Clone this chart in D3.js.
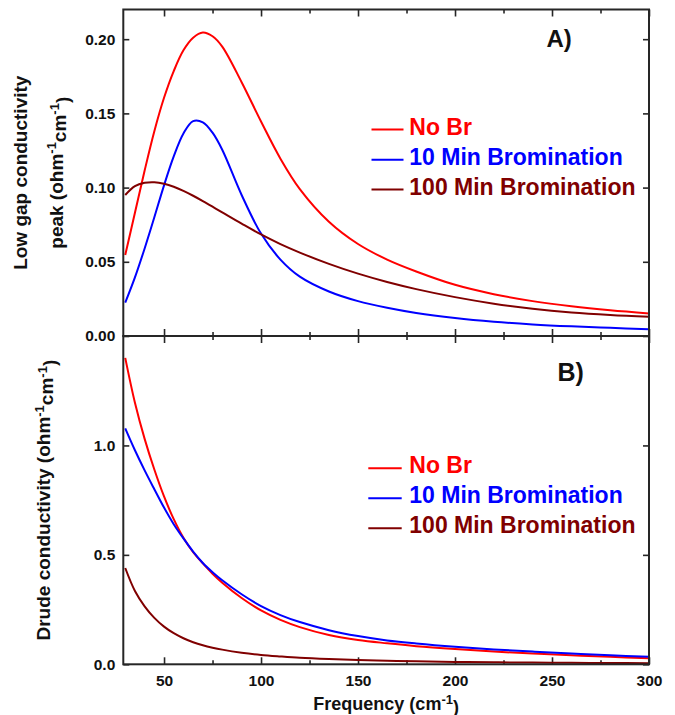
<!DOCTYPE html>
<html>
<head>
<meta charset="utf-8">
<script src="https://cdn.jsdelivr.net/npm/d3@7/dist/d3.min.js"></script>
<style>
  html, body { margin: 0; padding: 0; background: #fff; }
  svg { display: block; }
  text { font-family: "Liberation Sans", Arial, Helvetica, sans-serif; font-weight: bold; }
</style>
</head>
<body>
<svg id="chart" width="675" height="715"></svg>
<script>
// Frequency grid (cm^-1) shared by every curve
const freq = [30, 35, 40, 45, 50, 55, 60, 65, 70, 75, 80, 90, 100, 110, 120, 135, 150, 165, 180, 200, 220, 240, 260, 280, 300];

// Panel A: low gap conductivity peak (ohm^-1 cm^-1)
const peakNoBr   = [0.0546, 0.0830, 0.1115, 0.1380, 0.1605, 0.1785, 0.1925, 0.2010, 0.2045, 0.2020, 0.1950, 0.1710, 0.1445, 0.1195, 0.0990, 0.0770, 0.0620, 0.0515, 0.0435, 0.0345, 0.0282, 0.0235, 0.0200, 0.0173, 0.0152];
const peak10Min  = [0.0225, 0.0395, 0.0590, 0.0800, 0.1015, 0.1210, 0.1365, 0.1448, 0.1440, 0.1370, 0.1255, 0.0950, 0.0690, 0.0515, 0.0400, 0.0300, 0.0235, 0.0190, 0.0155, 0.0121, 0.0096, 0.0078, 0.0065, 0.0055, 0.0046];
const peak100Min = [0.0950, 0.1010, 0.1032, 0.1036, 0.1026, 0.1006, 0.0978, 0.0945, 0.0909, 0.0871, 0.0833, 0.0757, 0.0684, 0.0619, 0.0562, 0.0486, 0.0420, 0.0364, 0.0316, 0.0262, 0.0218, 0.0184, 0.0159, 0.0142, 0.0130];

// Panel B: Drude conductivity (ohm^-1 cm^-1)
const drudeNoBr   = [1.400, 1.195, 1.030, 0.890, 0.767, 0.663, 0.578, 0.512, 0.461, 0.414, 0.373, 0.303, 0.246, 0.203, 0.170, 0.134, 0.111, 0.096, 0.083, 0.0695, 0.058, 0.049, 0.041, 0.034, 0.028];
const drude10Min  = [1.078, 0.978, 0.886, 0.800, 0.716, 0.640, 0.575, 0.515, 0.463, 0.421, 0.384, 0.320, 0.266, 0.225, 0.193, 0.156, 0.129, 0.109, 0.095, 0.080, 0.068, 0.058, 0.049, 0.041, 0.035];
const drude100Min = [0.440, 0.335, 0.265, 0.212, 0.172, 0.142, 0.119, 0.101, 0.087, 0.076, 0.067, 0.053, 0.043, 0.036, 0.030, 0.024, 0.0195, 0.0162, 0.0136, 0.011, 0.0092, 0.0078, 0.0066, 0.0057, 0.0050];

const seriesNames  = ["No Br", "10 Min Bromination", "100 Min Bromination"];
const seriesColors = ["#ff0000", "#0000ff", "#800000"];

const xMajorTicks = [50, 100, 150, 200, 250, 300];
const xMinorTicks = [75, 125, 175, 225, 275];
const yTicksA = [0, 0.05, 0.10, 0.15, 0.20];
const yTicksB = [0, 0.5, 1.0];

const svg = d3.select("#chart");
const L = 123.3, R = 649, T = 9.5, M = 336, B = 664.3;
const axisColor = "#262626";

const x = d3.scaleLinear().domain([29, 300]).range([L, R]);
const yA = d3.scaleLinear().domain([0, 0.22]).range([M, T]);
const yB = d3.scaleLinear().domain([0, 1.5]).range([B, M]);

function styleAxis(g) {
  g.select(".domain").remove();
  g.selectAll(".tick line").attr("stroke", axisColor).attr("stroke-width", 1.6);
  g.selectAll(".tick text").attr("fill", "#111").style("font-size", "15.5px")
    .style("font-family", "'Liberation Sans', Arial, sans-serif").style("font-weight", "bold");
}

function drawPanel(y, yTicks, yFmt, showX, top, bottom, series) {
  // mirrored y ticks
  svg.append("g").attr("transform", `translate(${L},0)`)
    .call(d3.axisLeft(y).tickValues(yTicks).tickFormat(yFmt).tickSizeInner(-6).tickSizeOuter(0).tickPadding(8))
    .call(styleAxis);
  svg.append("g").attr("transform", `translate(${R},0)`)
    .call(d3.axisRight(y).tickValues(yTicks).tickFormat("").tickSizeInner(-6).tickSizeOuter(0))
    .call(styleAxis);
  // x ticks on bottom and top edges
  svg.append("g").attr("transform", `translate(0,${bottom})`)
    .call(d3.axisBottom(x).tickValues(xMajorTicks).tickFormat(showX ? d3.format("d") : "").tickSizeInner(-7).tickSizeOuter(0).tickPadding(10.4))
    .call(styleAxis);
  svg.append("g").attr("transform", `translate(0,${bottom})`)
    .call(d3.axisBottom(x).tickValues(xMinorTicks).tickFormat("").tickSizeInner(-4).tickSizeOuter(0))
    .call(styleAxis);
  svg.append("g").attr("transform", `translate(0,${top})`)
    .call(d3.axisTop(x).tickValues(xMajorTicks).tickFormat("").tickSizeInner(-7).tickSizeOuter(0))
    .call(styleAxis);
  svg.append("g").attr("transform", `translate(0,${top})`)
    .call(d3.axisTop(x).tickValues(xMinorTicks).tickFormat("").tickSizeInner(-4).tickSizeOuter(0))
    .call(styleAxis);

  const line = d3.line().x((d, i) => x(freq[i])).y(d => y(d)).curve(d3.curveCatmullRom.alpha(0.5));
  series.forEach((vals, k) => {
    svg.append("path").attr("d", line(vals)).attr("fill", "none")
      .attr("stroke", seriesColors[k]).attr("stroke-width", 2);
  });

  svg.append("rect").attr("x", L).attr("y", top).attr("width", R - L).attr("height", bottom - top)
    .attr("fill", "none").attr("stroke", axisColor).attr("stroke-width", 2);
}

drawPanel(yA, yTicksA, d3.format(".2f"), false, T, M, [peakNoBr, peak10Min, peak100Min]);
drawPanel(yB, yTicksB, d3.format(".1f"), true, M, B, [drudeNoBr, drude10Min, drude100Min]);

// legends
function legend(x0, x1, tx, baselines) {
  seriesNames.forEach((name, k) => {
    svg.append("line").attr("x1", x0).attr("x2", x1)
      .attr("y1", baselines[k] - 5).attr("y2", baselines[k] - 5)
      .attr("stroke", seriesColors[k]).attr("stroke-width", 2);
    svg.append("text").attr("x", tx).attr("y", baselines[k])
      .attr("fill", seriesColors[k]).style("font-size", "23px").text(name);
  });
}
legend(371.5, 403.5, 409.3, [134.5, 164.8, 194.5]);
legend(368.3, 401.7, 409.3, [473.3, 503.3, 533.3]);

// panel letters
svg.append("text").attr("x", 546.5).attr("y", 46.7).style("font-size", "24px").attr("fill", "#111").text("A)");
svg.append("text").attr("x", 557.5).attr("y", 380.5).style("font-size", "25px").attr("fill", "#111").text("B)");

// axis titles with superscripted exponents
function sup(t, s) {
  t.append("tspan").attr("dy", "-0.5em").style("font-size", "13px").text(s);
}
function back(t, s) {
  t.append("tspan").attr("dy", "0.5em").text(s);
}

const xt = svg.append("text").attr("x", (L + R) / 2).attr("y", 710).attr("text-anchor", "middle")
  .style("font-size", "18px").attr("fill", "#111");
xt.append("tspan").text("Frequency (cm");
sup(xt, "-1");
back(xt, ")");

const yc = (T + M) / 2;
svg.append("text").attr("transform", `translate(26.7,${yc}) rotate(-90)`)
  .attr("text-anchor", "middle").style("font-size", "19px").attr("fill", "#111")
  .text("Low gap conductivity");
const ya2 = svg.append("text").attr("transform", `translate(62.7,${yc}) rotate(-90)`)
  .attr("text-anchor", "middle").style("font-size", "19px").attr("fill", "#111");
ya2.append("tspan").text("peak (ohm");
sup(ya2, "-1");
back(ya2, "cm");
sup(ya2, "-1");
back(ya2, ")");

const yb = svg.append("text").attr("transform", `translate(50,${(M + B) / 2}) rotate(-90)`)
  .attr("text-anchor", "middle").style("font-size", "19px").attr("fill", "#111");
yb.append("tspan").text("Drude conductivity (ohm");
sup(yb, "-1");
back(yb, "cm");
sup(yb, "-1");
back(yb, ")");
</script>
</body>
</html>
